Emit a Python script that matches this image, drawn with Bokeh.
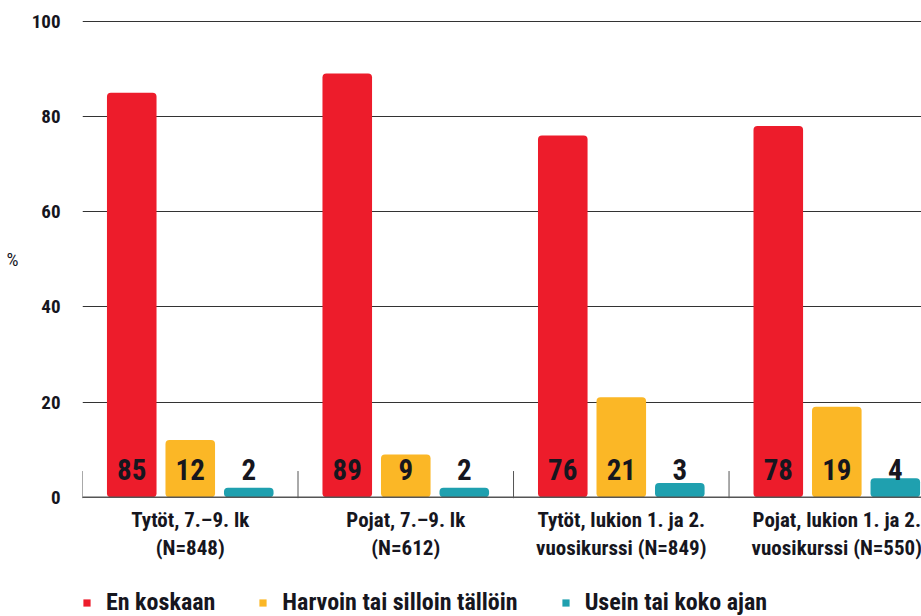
from bokeh.plotting import figure
from bokeh.models import (Range1d, FixedTicker, ColumnDataSource, Legend, LegendItem,
                          LinearAxis, Span)
from bokeh.core.properties import value
from bokeh.embed import file_html
from bokeh.resources import INLINE

# ---- data ----
categories = [
    "Tytöt, 7.–9. lk\n(N=848)",
    "Pojat, 7.–9. lk\n(N=612)",
    "Tytöt, lukion 1. ja 2.\nvuosikurssi (N=849)",
    "Pojat, lukion 1. ja 2.\nvuosikurssi (N=550)",
]
series_names = ["En koskaan", "Harvoin tai silloin tällöin", "Usein tai koko ajan"]
en_koskaan = [85, 89, 76, 78]
harvoin = [12, 9, 21, 19]
usein = [2, 2, 3, 4]
y_ticks = [0, 20, 40, 60, 80, 100]
y_unit_label = "%"

colors = ["#ED1C2B", "#FBB726", "#1FA0AF"]
FONT = "Roboto Condensed"
TXT = "#16161e"
AXC = "#555555"

p = figure(width=921, height=616, output_backend="svg", toolbar_location=None,
           x_range=Range1d(0, 3.893), y_range=Range1d(-25.06, 101),
           min_border_left=82, min_border_right=0, min_border_top=16, min_border_bottom=0)
p.outline_line_color = None
p.background_fill_color = "white"
p.xaxis.visible = False

# y axis (tick labels)
p.yaxis.ticker = FixedTicker(ticks=y_ticks)
p.yaxis.axis_line_color = None
p.yaxis.major_tick_line_color = None
p.yaxis.minor_tick_line_color = None
p.yaxis.major_tick_in = 0
p.yaxis.major_tick_out = 0
p.yaxis.minor_tick_in = 0
p.yaxis.minor_tick_out = 0
p.yaxis.major_label_standoff = 22
p.yaxis.major_label_text_font = FONT
p.yaxis.major_label_text_font_style = "bold"
p.yaxis.major_label_text_font_size = "19px"
p.yaxis.major_label_text_color = TXT

# "%" unit label as an outer left axis with a single labelled tick at mid height
mid = (y_ticks[0] + y_ticks[-1]) / 2
pct_axis = LinearAxis(ticker=FixedTicker(ticks=[mid]), major_label_overrides={mid: y_unit_label},
                      axis_line_color=None, major_tick_line_color=None, minor_tick_line_color=None,
                      major_tick_in=0, major_tick_out=0, minor_tick_in=0, minor_tick_out=0,
                      major_label_standoff=10, major_label_text_font=FONT,
                      major_label_text_font_style="normal", major_label_text_font_size="19px",
                      major_label_text_color=TXT)
p.add_layout(pct_axis, "left")

p.ygrid.grid_line_color = "#333333"
p.ygrid.grid_line_width = 1
p.xgrid.grid_line_color = None

# baseline (x axis line) and group separators
p.add_layout(Span(location=0, dimension="width", line_color=AXC, line_width=1.5))
n = len(categories)
bounds = list(range(n + 1))
p.segment(x0=bounds, x1=bounds, y0=[-0.2] * len(bounds), y1=[5.5] * len(bounds),
          line_color=AXC, line_width=1)

centers = [i + 0.5 for i in range(n)]
p.text(x=centers, y=[-2.3] * n, text=categories, text_align="center", text_baseline="top",
       text_font=value(FONT), text_font_style="bold", text_font_size="21px",
       text_color=TXT, text_line_height=1.15)

offsets = [-0.2715, 0.0, 0.2715]
bar_w = 0.23
renderers = []
for vals, off, col in zip([en_koskaan, harvoin, usein], offsets, colors):
    src = ColumnDataSource(dict(x=[c + off for c in centers], top=vals,
                                lab=[str(v) for v in vals], ly=[5.8] * len(vals)))
    r = p.vbar(x="x", top="top", width=bar_w, source=src, fill_color=col,
               line_color=None, border_radius=4)
    renderers.append(r)
    p.text(x="x", y="ly", text="lab", source=src, text_align="center",
           text_baseline="middle", text_font=value(FONT), text_font_style="bold",
           text_font_size="29px", text_color=TXT)

legend = Legend(items=[LegendItem(label=nm, renderers=[r]) for nm, r in zip(series_names, renderers)],
                orientation="horizontal", location=(0, 0),
                glyph_width=9, glyph_height=9, label_standoff=15, spacing=43,
                label_text_font=FONT, label_text_font_style="bold",
                label_text_font_size="24px", label_text_color=TXT, label_height=20,
                padding=0, margin=0, border_line_color=None, background_fill_alpha=0)
p.add_layout(legend)

open("out.html", "w").write(file_html(p, INLINE))
